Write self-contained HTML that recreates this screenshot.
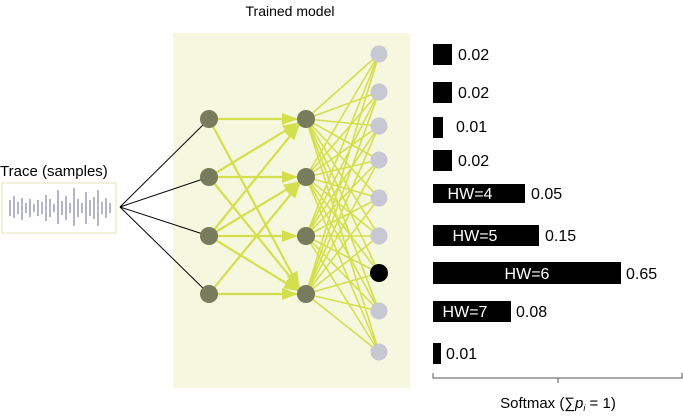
<!DOCTYPE html>
<html><head><style>body{margin:0;background:#fff}svg{display:block}text{font-family:"Liberation Sans",sans-serif}</style></head>
<body>
<svg width="683" height="418" viewBox="0 0 683 418">
<defs><marker id="b" markerWidth="16" markerHeight="12" refX="15" refY="6" orient="auto" markerUnits="userSpaceOnUse"><path d="M0,0 L16,6 L0,12 z" fill="#d4df4e"/></marker></defs>
<text x="290" y="16" font-size="14" text-anchor="middle">Trained model</text>
<rect x="173" y="33" width="237" height="355" fill="#f5f8de"/>
<text x="0" y="176" font-size="15">Trace (samples)</text>
<rect x="2" y="183" width="114" height="50" fill="#fff" stroke="#e4e6b0"/>
<g stroke="#b4b4c8" stroke-width="2">
<path d="M10,200V216M14,196V218M18,202V214M22,198V220M26,203V213M30,199V217M34,204V212M38,200V216M42,202V214M46,195V221M50,199V217M54,204V212M58,190V224M62,201V215M66,196V220M70,203V213M74,188V226M78,199V217M82,203V213M86,192V224M90,200V216M94,197V219M98,190V226M102,202V214M106,198V218M110,203V213"/></g>
<g stroke="#000" stroke-width="1"><line x1="120" y1="207" x2="209" y2="119"/><line x1="120" y1="207" x2="209" y2="177"/><line x1="120" y1="207" x2="209" y2="236"/><line x1="120" y1="207" x2="209" y2="294"/></g>
<g stroke="#d4df4e" stroke-width="2.2" marker-end="url(#b)">
<line x1="209" y1="119" x2="297" y2="119"/><line x1="209" y1="119" x2="299" y2="287"/>
<line x1="209" y1="177" x2="298" y2="123"/><line x1="209" y1="177" x2="297" y2="177"/><line x1="209" y1="177" x2="300" y2="289"/>
<line x1="209" y1="236" x2="299" y2="125"/><line x1="209" y1="236" x2="299" y2="182"/><line x1="209" y1="236" x2="297" y2="236"/><line x1="209" y1="236" x2="299" y2="291"/>
<line x1="209" y1="294" x2="300" y2="183"/><line x1="209" y1="294" x2="297" y2="294"/>
</g>
<g stroke="#d4df4e" stroke-width="1.6">
<path d="M306,119L379,54M306,119L379,92M306,119L379,126M306,119L379,160M306,119L379,198M306,119L379,236M306,119L379,273M306,119L379,311M306,119L379,352
M306,177L379,54M306,177L379,92M306,177L379,126M306,177L379,160M306,177L379,198M306,177L379,236M306,177L379,273M306,177L379,311M306,177L379,352
M306,236L379,54M306,236L379,92M306,236L379,126M306,236L379,160M306,236L379,198M306,236L379,236M306,236L379,273M306,236L379,311M306,236L379,352
M306,294L379,54M306,294L379,92M306,294L379,126M306,294L379,160M306,294L379,198M306,294L379,236M306,294L379,273M306,294L379,311M306,294L379,352"/>
</g>
<g fill="#767c5c"><circle cx="209" cy="119" r="9"/><circle cx="209" cy="177" r="9"/><circle cx="209" cy="236" r="9"/><circle cx="209" cy="294" r="9"/>
<circle cx="306" cy="119" r="9"/><circle cx="306" cy="177" r="9"/><circle cx="306" cy="236" r="9"/><circle cx="306" cy="294" r="9"/></g>
<g fill="#c8c8d4"><circle cx="379" cy="54" r="8.5"/><circle cx="379" cy="92" r="8.5"/><circle cx="379" cy="126" r="8.5"/><circle cx="379" cy="160" r="8.5"/><circle cx="379" cy="198" r="8.5"/><circle cx="379" cy="236" r="8.5"/><circle cx="379" cy="311" r="8.5"/><circle cx="379" cy="352" r="8.5"/></g>
<circle cx="379" cy="273" r="9" fill="#000"/>
<g fill="#000"><rect x="433" y="44" width="19" height="21"/><rect x="433" y="82" width="19" height="21"/><rect x="433" y="117" width="10" height="21"/><rect x="433" y="150" width="19" height="21"/>
<rect x="433" y="184" width="92" height="19"/><rect x="433" y="225" width="106" height="21"/><rect x="433" y="262" width="188" height="22"/><rect x="433" y="301" width="78" height="21"/><rect x="433" y="343" width="8" height="21"/></g>
<g font-size="16" fill="#fff" text-anchor="middle"><text x="470" y="199">HW=4</text><text x="475" y="241">HW=5</text><text x="527" y="279">HW=6</text><text x="465" y="317">HW=7</text></g>
<g font-size="16"><text x="458" y="60">0.02</text><text x="458" y="98">0.02</text><text x="456" y="132">0.01</text><text x="458" y="166">0.02</text><text x="531" y="199">0.05</text><text x="545" y="241">0.15</text><text x="626" y="279">0.65</text><text x="516" y="317">0.08</text><text x="446" y="359">0.01</text></g>
<path d="M433,373 V378 H682 V373 M558,378 V383" stroke="#555" fill="none"/>
<text x="558" y="408" font-size="15" text-anchor="middle">Softmax (∑<tspan font-style="italic">p</tspan><tspan font-size="9" dy="3" font-style="italic">i</tspan><tspan dy="-3"> = 1)</tspan></text>
</svg>
</body></html>
